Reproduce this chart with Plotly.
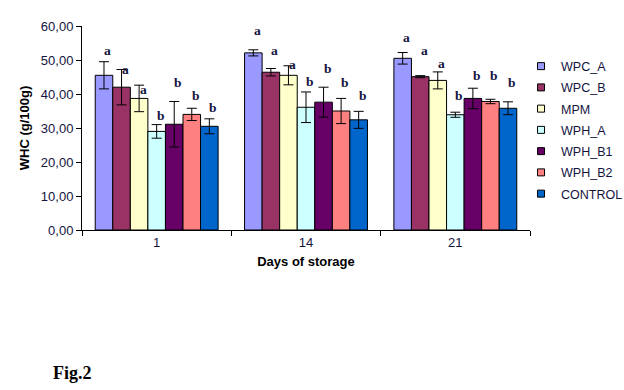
import plotly.graph_objects as go

days = ["1", "14", "21"]
series_names = ["WPC_A", "WPC_B", "MPM", "WPH_A", "WPH_B1", "WPH_B2", "CONTROL"]
series_colors = ["#9999FF", "#993366", "#FFFFCC", "#CCFFFF", "#660066", "#FF8080", "#0066CC"]

wpc_a = [45.5, 52.1, 50.5]
wpc_b = [42.0, 46.4, 45.1]
mpm = [38.7, 45.5, 44.0]
wph_a = [29.0, 36.1, 33.9]
wph_b1 = [31.1, 37.6, 38.7]
wph_b2 = [34.0, 35.0, 37.8]
control = [30.5, 32.4, 35.8]

err_wpc_a = [4.0, 0.9, 1.7]
err_wpc_b = [5.2, 1.1, 0.3]
err_mpm = [3.9, 2.8, 2.5]
err_wph_a = [2.0, 4.5, 0.75]
err_wph_b1 = [6.7, 4.4, 3.0]
err_wph_b2 = [1.8, 3.7, 0.65]
err_control = [2.2, 2.5, 1.9]

letters = ["a", "a", "a", "b", "b", "b", "b"]
letter_y_wpc_a = [52.9, 58.6, 56.7]
letter_y_wpc_b = [47.1, 52.7, 52.7]
letter_y_mpm = [41.2, 48.8, 48.9]
letter_y_wph_a = [33.8, 43.6, 39.6]
letter_y_wph_b1 = [43.5, 47.4, 45.3]
letter_y_wph_b2 = [39.7, 43.5, 45.3]
letter_y_control = [35.9, 39.7, 43.5]

values = [wpc_a, wpc_b, mpm, wph_a, wph_b1, wph_b2, control]
errors = [err_wpc_a, err_wpc_b, err_mpm, err_wph_a, err_wph_b1, err_wph_b2, err_control]
letter_ys = [letter_y_wpc_a, letter_y_wpc_b, letter_y_mpm, letter_y_wph_a,
             letter_y_wph_b1, letter_y_wph_b2, letter_y_control]

BARGAP = 0.177
FONT = "Liberation Sans, Arial, sans-serif"
SERIF = "Liberation Serif, Times New Roman, serif"
TXT = "#141440"

fig = go.Figure()
for name, col, v, e in zip(series_names, series_colors, values, errors):
    fig.add_trace(go.Bar(
        x=days, y=v, name=name, legendgroup=name, showlegend=False,
        marker=dict(color=col, line=dict(color="black", width=1)),
        error_y=dict(type="data", array=e, visible=True, color="black",
                     thickness=1, width=5),
    ))
# legend entries with small square keys
for name, col in zip(series_names, series_colors):
    fig.add_trace(go.Scatter(
        x=[None], y=[None], mode="markers", name=name, legendgroup=name,
        marker=dict(symbol="square", size=7, color=col,
                    line=dict(color="black", width=1)),
    ))

n = len(series_names)
w = (1 - BARGAP) / n
annotations = []
for i, (lab, ly) in enumerate(zip(letters, letter_ys)):
    for g in range(len(days)):
        annotations.append(dict(
            x=g + (i - (n - 1) / 2) * w, y=ly[g], xref="x", yref="y",
            text="<b>%s</b>" % lab, showarrow=False, xshift=4,
            font=dict(family=SERIF, size=13.5, color=TXT),
        ))

annotations.append(dict(
    x=-0.069, y=-0.70, xref="paper", yref="paper", xanchor="left", yanchor="middle",
    text="<b>Fig.2</b>", showarrow=False,
    font=dict(family=SERIF, size=18, color="black"),
))

fig.update_layout(
    width=624, height=390,
    margin=dict(l=82, r=94, t=26, b=160, autoexpand=False),
    paper_bgcolor="white", plot_bgcolor="white",
    barmode="group", bargap=BARGAP, bargroupgap=0,
    separators=", ",
    font=dict(family=FONT, size=13, color=TXT),
    showlegend=True,
    legend=dict(x=0.98, y=0.875, xanchor="left", yanchor="top",
                traceorder="grouped", tracegroupgap=2,
                font=dict(family=FONT, size=12.5, color=TXT),
                itemwidth=30, bgcolor="rgba(0,0,0,0)"),
    annotations=annotations,
)
fig.update_yaxes(
    range=[0, 60], dtick=10, tickformat=".2f",
    showline=True, linecolor="black", linewidth=1,
    ticks="outside", ticklen=5, tickcolor="black",
    showgrid=False, zeroline=False,
    title=dict(text="<b>WHC (g/100g)</b>", font=dict(size=13, color="black"), standoff=8),
)
fig.update_xaxes(
    type="category",
    showline=True, linecolor="black", linewidth=1,
    ticks="outside", ticklen=5, tickcolor="black", tickson="boundaries",
    showgrid=False,
    title=dict(text="<b>Days of storage</b>", font=dict(size=13, color="black"), standoff=8),
)

fig.write_html("out.html", config={"displayModeBar": False},
               post_script="document.body.style.margin='0';document.body.style.overflow='hidden';")
